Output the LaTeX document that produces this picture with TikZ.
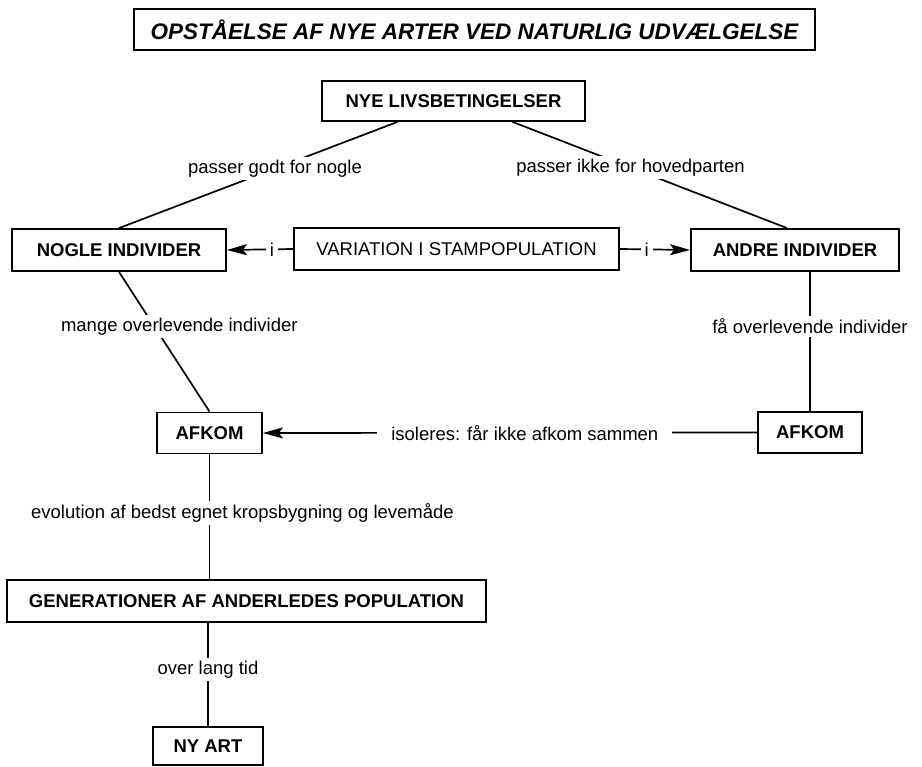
\documentclass[tikz,border=0pt]{standalone}
\usepackage{fontspec}
\setmainfont{Liberation Sans}
\usetikzlibrary{arrows.meta}

\begin{document}
\begin{tikzpicture}[x=1pt, y=-1pt,
    box/.style={draw, line width=1.8pt, minimum height=41pt, inner sep=0pt,
        font=\fontsize{18.5}{22}\selectfont\bfseries},
    lbl/.style={fill=white, inner sep=3pt, font=\fontsize{18.5}{22}\selectfont},
    link/.style={line width=1.7pt},
    tip/.style={link, -{Stealth[length=20pt, width=11pt, inset=4pt]}}]
        \useasboundingbox (0,0) rectangle (922,767);

        % Title
        \node[box, minimum width=681pt, font=\fontsize{22.5}{27}\selectfont\bfseries\itshape]
            (title) at (474.5,29.5) {OPSTÅELSE AF NYE ARTER VED NATURLIG UDVÆLGELSE};

        % Boxes
        \node[box, minimum width=263pt, minimum height=40pt] (nye) at (453.5,101) {NYE LIVSBETINGELSER};
        \node[box, minimum width=214pt, minimum height=42pt] (nogle) at (119,250) {NOGLE INDIVIDER};
        \node[box, minimum width=325pt, minimum height=42pt, font=\fontsize{18.5}{22}\selectfont]
            (variation) at (456.5,249) {VARIATION I STAMPOPULATION};
        \node[box, minimum width=208pt, minimum height=42pt] (andre) at (795,250) {ANDRE INDIVIDER};
        \node[box, minimum width=105pt] (afkoml) at (209.5,433) {AFKOM};
        \node[box, minimum width=104pt] (afkomr) at (810,432.5) {AFKOM};
        \node[box, minimum width=479pt, minimum height=42pt] (gen) at (246.5,601) {GENERATIONER AF ANDERLEDES POPULATION};
        \node[box, minimum width=110pt, minimum height=38pt] (nyart) at (208,746) {NY ART};

        % From the new conditions
        \draw[link] ([xshift=-56]nye.south) -- node[lbl, pos=0.44] {passer godt for nogle} (nogle.north);
        \draw[link] ([xshift=59]nye.south) -- node[lbl, pos=0.43] {passer ikke for hovedparten} ([xshift=-8]andre.north);

        % Variation splits into the two groups
        \draw[tip] (variation.west) -- node[lbl, pos=0.32, inner xsep=4pt] {i} (nogle.east);
        \draw[tip] (variation.east) -- node[lbl, pos=0.38, inner xsep=4pt] {i} (andre.west);

        % Survivors and offspring
        \draw[link] (nogle.south) -- node[lbl, pos=0.39, xshift=25] {mange overlevende individer} (afkoml.north);
        \draw[link] (andre.south -| afkomr.north) -- node[lbl, pos=0.39] {få overlevende individer} (afkomr.north);
        \draw[tip] (afkomr.west) -- node[lbl, pos=0.47, inner xsep=14pt] {isoleres: får ikke afkom sammen} (afkoml.east);

        % Towards a new species
        \draw[link] (afkoml.south) -- node[lbl, pos=0.47, xshift=33] {evolution af bedst egnet kropsbygning og levemåde} (afkoml.south |- gen.north);
        \draw[link] (gen.south -| nyart.north) -- node[lbl, pos=0.45] {over lang tid} (nyart.north);

    \end{tikzpicture}
\end{document}
